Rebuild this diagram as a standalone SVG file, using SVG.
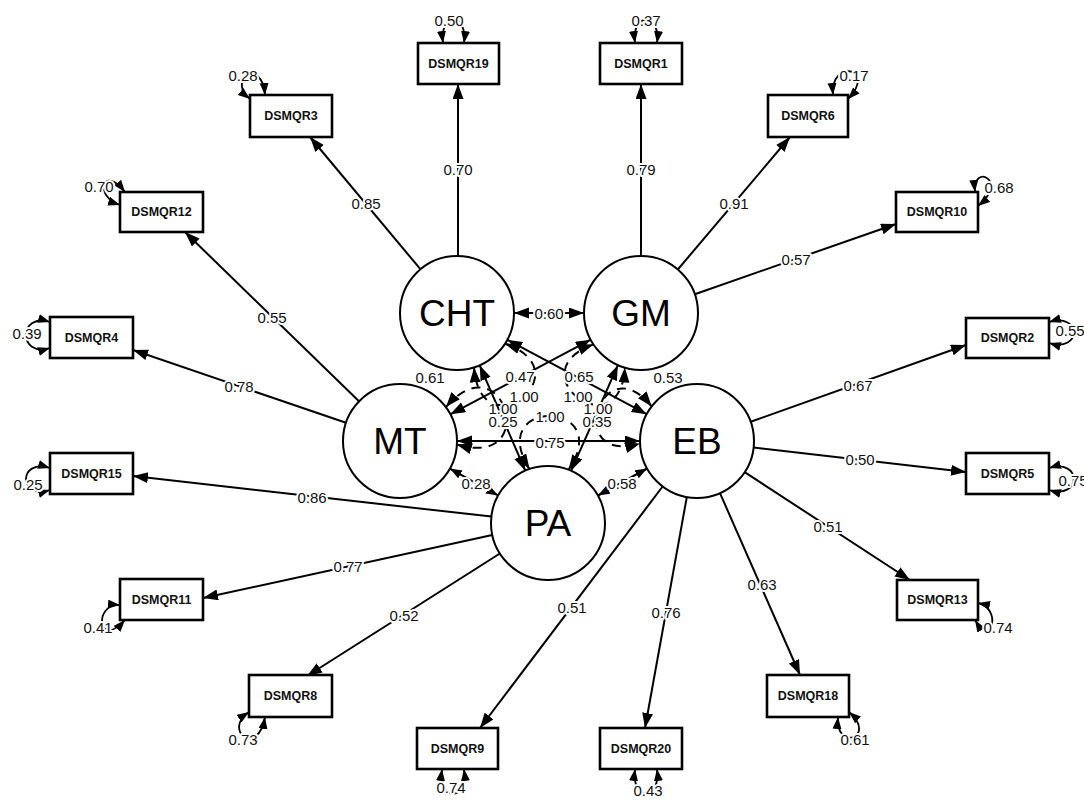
<svg xmlns="http://www.w3.org/2000/svg" width="1084" height="800" viewBox="0 0 1084 800">
<style>
.ln{stroke:#000;stroke-width:2;fill:none}
.dl{stroke:#000;stroke-width:2;fill:none;stroke-dasharray:9 7}
.rs{stroke:#000;stroke-width:1.8;fill:none}
.lb{font-family:"Liberation Sans",Arial,sans-serif;font-size:15px;fill:#111;text-anchor:middle;dominant-baseline:central;stroke:#fff;stroke-width:4;paint-order:stroke;stroke-linejoin:round}
.bx{fill:#fff;stroke:#000;stroke-width:2.6}
.bt{font-family:"Liberation Sans",Arial,sans-serif;font-size:12.5px;font-weight:bold;fill:#111;text-anchor:middle;dominant-baseline:central}
.cc{fill:#fff;stroke:#000;stroke-width:2}
.ct{font-family:"Liberation Sans",Arial,sans-serif;font-size:37px;fill:#000;text-anchor:middle;dominant-baseline:central}
</style>
<defs>
<marker id="ah" markerUnits="userSpaceOnUse" viewBox="0 0 16 12" markerWidth="16" markerHeight="12" refX="15" refY="5.5" orient="auto-start-reverse"><path d="M0,0 L15,5.5 L0,11 z" fill="#000"/></marker>
<marker id="as" markerUnits="userSpaceOnUse" viewBox="0 0 13 10" markerWidth="13" markerHeight="10" refX="12" refY="4.5" orient="auto-start-reverse"><path d="M0,0 L12,4.5 L0,9 z" fill="#000"/></marker>
</defs>
<rect width="1084" height="800" fill="#fff"/>

<g id="connectors">
<line class="ln" x1="458" y1="256" x2="458" y2="84" marker-end="url(#ah)"/>
<line class="ln" x1="420.4" y1="269.2" x2="310" y2="137" marker-end="url(#ah)"/>
<line class="ln" x1="641" y1="256" x2="641" y2="84" marker-end="url(#ah)"/>
<line class="ln" x1="677.8" y1="269.5" x2="790" y2="137" marker-end="url(#ah)"/>
<line class="ln" x1="694.8" y1="294.2" x2="896" y2="224" marker-end="url(#ah)"/>
<line class="ln" x1="359" y1="401.3" x2="185" y2="232" marker-end="url(#ah)"/>
<line class="ln" x1="346" y1="422.8" x2="133" y2="350" marker-end="url(#ah)"/>
<line class="ln" x1="491.4" y1="516.6" x2="133" y2="476" marker-end="url(#ah)"/>
<line class="ln" x1="492.3" y1="535.1" x2="203" y2="598" marker-end="url(#ah)"/>
<line class="ln" x1="499.9" y1="553.5" x2="307" y2="676" marker-end="url(#ah)"/>
<line class="ln" x1="750.7" y1="421.8" x2="966" y2="345" marker-end="url(#ah)"/>
<line class="ln" x1="753.6" y1="447.5" x2="966" y2="472" marker-end="url(#ah)"/>
<line class="ln" x1="744.7" y1="472.2" x2="910" y2="580" marker-end="url(#ah)"/>
<line class="ln" x1="720" y1="493.2" x2="800" y2="675" marker-end="url(#ah)"/>
<line class="ln" x1="686.8" y1="497.1" x2="645" y2="728" marker-end="url(#ah)"/>
<line class="ln" x1="662.6" y1="486.5" x2="480" y2="728" marker-end="url(#ah)"/>

<line class="ln" x1="514" y1="313" x2="584" y2="313" marker-start="url(#ah)" marker-end="url(#ah)"/>
<line class="ln" x1="507.3" y1="339.8" x2="646.7" y2="414.2" marker-start="url(#ah)" marker-end="url(#ah)"/>
<line class="ln" x1="590.7" y1="339.7" x2="450.3" y2="414.3" marker-start="url(#ah)" marker-end="url(#ah)"/>
<line class="ln" x1="479.7" y1="365.3" x2="525.3" y2="470.7" marker-start="url(#ah)" marker-end="url(#ah)"/>
<line class="ln" x1="617.9" y1="365.2" x2="571.1" y2="470.8" marker-start="url(#ah)" marker-end="url(#ah)"/>
<line class="ln" x1="457" y1="441" x2="640" y2="441" marker-start="url(#ah)" marker-end="url(#ah)"/>
<line class="ln" x1="449.9" y1="468.6" x2="498.1" y2="495.4" marker-start="url(#as)" marker-end="url(#as)"/>
<line class="ln" x1="597.9" y1="495.5" x2="647.1" y2="468.5" marker-start="url(#as)" marker-end="url(#as)"/>

<path class="dl" d="M445.9,407.1 C503.6,339.4 542.2,470 456.9,444.5" marker-start="url(#ah)" marker-end="url(#ah)"/>
<path class="dl" d="M651.7,406.4 C601.2,343.9 562.9,466.1 640.1,443.6" marker-start="url(#ah)" marker-end="url(#ah)"/>
<path class="dl" d="M505,343.7 C585.6,371.8 480.1,452.5 474.1,367.4" marker-start="url(#ah)" marker-end="url(#ah)"/>
<path class="dl" d="M593.4,344.4 C515,373 620.3,451 624.8,367.6" marker-start="url(#ah)" marker-end="url(#ah)"/>
<path class="dl" d="M529.5,469.1 C484,396.9 616.7,399.4 568.5,469.8" marker-start="url(#ah)" marker-end="url(#ah)"/>

<path class="rs" d="M443,43 C439,12 468,12 464,43" marker-start="url(#as)" marker-end="url(#as)"/>
<path class="rs" d="M635,43 C631,12 661,12 657,43" marker-start="url(#as)" marker-end="url(#as)"/>
<path class="rs" d="M250,99 C226,80 262,56 265,95" marker-start="url(#as)" marker-end="url(#as)"/>
<path class="rs" d="M833,95 C830,58 878,68 848,99" marker-start="url(#as)" marker-end="url(#as)"/>
<path class="rs" d="M120,205 C93,196 103,164 125,192" marker-start="url(#as)" marker-end="url(#as)"/>
<path class="rs" d="M50,322 C18,312 18,358 50,348" marker-start="url(#as)" marker-end="url(#as)"/>
<path class="rs" d="M50,468 C18,458 18,500 50,490" marker-start="url(#as)" marker-end="url(#as)"/>
<path class="rs" d="M120,605 C93,603 98,650 125,620" marker-start="url(#as)" marker-end="url(#as)"/>
<path class="rs" d="M249,712 C222,730 258,758 265,717" marker-start="url(#as)" marker-end="url(#as)"/>
<path class="rs" d="M442,769 C438,802 468,802 464,769" marker-start="url(#as)" marker-end="url(#as)"/>
<path class="rs" d="M635,769 C631,802 661,802 657,769" marker-start="url(#as)" marker-end="url(#as)"/>
<path class="rs" d="M838,717 C835,752 878,737 849,712" marker-start="url(#as)" marker-end="url(#as)"/>
<path class="rs" d="M978,603 C1002,608 992,648 975,620" marker-start="url(#as)" marker-end="url(#as)"/>
<path class="rs" d="M1049,468 C1082,458 1082,500 1049,490" marker-start="url(#as)" marker-end="url(#as)"/>
<path class="rs" d="M1049,322 C1082,312 1082,353 1049,343" marker-start="url(#as)" marker-end="url(#as)"/>
<path class="rs" d="M975,192 C972,163 1010,180 978,206" marker-start="url(#as)" marker-end="url(#as)"/>
</g>

<g id="CHT"><circle class="cc" cx="457" cy="313" r="57"/><text class="ct" x="457" y="313">CHT</text></g>
<g id="GM"><circle class="cc" cx="641" cy="313" r="57"/><text class="ct" x="641" y="313">GM</text></g>
<g id="MT"><circle class="cc" cx="400" cy="441" r="57"/><text class="ct" x="400" y="441">MT</text></g>
<g id="EB"><circle class="cc" cx="697" cy="441" r="57"/><text class="ct" x="697" y="441">EB</text></g>
<g id="PA"><circle class="cc" cx="548" cy="523" r="57"/><text class="ct" x="548" y="523">PA</text></g>

<g id="DSMQR19"><rect class="bx" x="418" y="43" width="81" height="41"/><text class="bt" x="458.5" y="63.5">DSMQR19</text></g>
<g id="DSMQR1"><rect class="bx" x="600" y="43" width="82" height="41"/><text class="bt" x="641" y="63.5">DSMQR1</text></g>
<g id="DSMQR3"><rect class="bx" x="250" y="95" width="82" height="42"/><text class="bt" x="291" y="116">DSMQR3</text></g>
<g id="DSMQR6"><rect class="bx" x="768" y="95" width="80" height="42"/><text class="bt" x="808" y="116">DSMQR6</text></g>
<g id="DSMQR12"><rect class="bx" x="120" y="192" width="83" height="40"/><text class="bt" x="161.5" y="212">DSMQR12</text></g>
<g id="DSMQR10"><rect class="bx" x="896" y="192" width="82" height="40"/><text class="bt" x="937" y="212">DSMQR10</text></g>
<g id="DSMQR4"><rect class="bx" x="50" y="317" width="83" height="41"/><text class="bt" x="91.5" y="337.5">DSMQR4</text></g>
<g id="DSMQR2"><rect class="bx" x="966" y="318" width="83" height="40"/><text class="bt" x="1007.5" y="338">DSMQR2</text></g>
<g id="DSMQR15"><rect class="bx" x="50" y="453" width="83" height="41"/><text class="bt" x="91.5" y="473.5">DSMQR15</text></g>
<g id="DSMQR5"><rect class="bx" x="966" y="453" width="83" height="41"/><text class="bt" x="1007.5" y="473.5">DSMQR5</text></g>
<g id="DSMQR11"><rect class="bx" x="120" y="579" width="83" height="41"/><text class="bt" x="161.5" y="599.5">DSMQR11</text></g>
<g id="DSMQR13"><rect class="bx" x="897" y="580" width="81" height="40"/><text class="bt" x="937.5" y="600">DSMQR13</text></g>
<g id="DSMQR8"><rect class="bx" x="249" y="675" width="83" height="42"/><text class="bt" x="290.5" y="696">DSMQR8</text></g>
<g id="DSMQR18"><rect class="bx" x="767" y="675" width="82" height="42"/><text class="bt" x="808" y="696">DSMQR18</text></g>
<g id="DSMQR9"><rect class="bx" x="417" y="728" width="81" height="41"/><text class="bt" x="457.5" y="748.5">DSMQR9</text></g>
<g id="DSMQR20"><rect class="bx" x="600" y="728" width="82" height="41"/><text class="bt" x="641" y="748.5">DSMQR20</text></g>

<g id="labels">
<text class="lb" x="458" y="169">0.70</text>
<text class="lb" x="366" y="203">0.85</text>
<text class="lb" x="641" y="169">0.79</text>
<text class="lb" x="734" y="203">0.91</text>
<text class="lb" x="796" y="259">0.57</text>
<text class="lb" x="272" y="317">0.55</text>
<text class="lb" x="239" y="386">0.78</text>
<text class="lb" x="312" y="497">0.86</text>
<text class="lb" x="348" y="566">0.77</text>
<text class="lb" x="404" y="615">0.52</text>
<text class="lb" x="858" y="385">0.67</text>
<text class="lb" x="860" y="459">0.50</text>
<text class="lb" x="828" y="526">0.51</text>
<text class="lb" x="762" y="584">0.63</text>
<text class="lb" x="666" y="612">0.76</text>
<text class="lb" x="572" y="607">0.51</text>

<text class="lb" x="549" y="313">0.60</text>
<text class="lb" x="430" y="377">0.61</text>
<text class="lb" x="520" y="376">0.47</text>
<text class="lb" x="579" y="376">0.65</text>
<text class="lb" x="668" y="377">0.53</text>
<text class="lb" x="524" y="396">1.00</text>
<text class="lb" x="578" y="396">1.00</text>
<text class="lb" x="503" y="408">1.00</text>
<text class="lb" x="598" y="408">1.00</text>
<text class="lb" x="503" y="421">0.25</text>
<text class="lb" x="550" y="416">1.00</text>
<text class="lb" x="597" y="421">0.35</text>
<text class="lb" x="550" y="442">0.75</text>
<text class="lb" x="476" y="483">0.28</text>
<text class="lb" x="622" y="483">0.58</text>

<text class="lb" x="449" y="20">0.50</text>
<text class="lb" x="646" y="20">0.37</text>
<text class="lb" x="243" y="75">0.28</text>
<text class="lb" x="854" y="75">0.17</text>
<text class="lb" x="99" y="186">0.70</text>
<text class="lb" x="999" y="187">0.68</text>
<text class="lb" x="27" y="333">0.39</text>
<text class="lb" x="1070" y="330">0.55</text>
<text class="lb" x="28" y="484">0.25</text>
<text class="lb" x="1073" y="480">0.75</text>
<text class="lb" x="98" y="627">0.41</text>
<text class="lb" x="998" y="627">0.74</text>
<text class="lb" x="243" y="739">0.73</text>
<text class="lb" x="855" y="739">0.61</text>
<text class="lb" x="451" y="787">0.74</text>
<text class="lb" x="648" y="790">0.43</text>
</g>
</svg>
